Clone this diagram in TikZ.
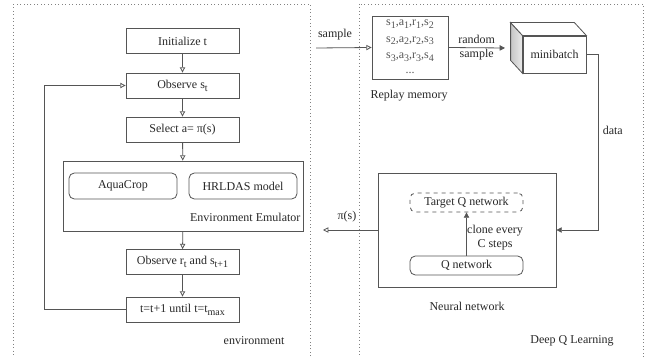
\documentclass[tikz,border=0pt]{standalone}
\usepackage{fontspec}
\setmainfont{Liberation Serif}
\usepackage{xcolor}
\definecolor{dqline}{RGB}{85,85,85}
\definecolor{dqtext}{RGB}{40,40,40}
\definecolor{dqframe}{RGB}{130,130,130}
\definecolor{dqshade}{RGB}{215,215,215}
\usetikzlibrary{arrows.meta,positioning,calc}
\newcommand{\sbs}[1]{\raisebox{-2.2pt}{\fontsize{7.5}{8}\selectfont #1}}
\tikzset{
  stepbox/.style={draw=dqline,line width=0.6pt,minimum width=84.75pt,minimum height=18.75pt,inner sep=0pt,text=dqtext},
  modelbox/.style={draw=dqline,line width=0.6pt,rounded corners=4pt,inner sep=0pt,text=dqtext},
  lbl/.style={text=dqtext,inner sep=1pt},
  openarrow/.style={draw=dqline,line width=0.6pt,-{Triangle[open,length=4pt,width=4pt]}},
  fullarrow/.style={draw=dqline,line width=0.6pt,-{Triangle[length=4pt,width=4pt]}},
  frame/.style={draw=dqframe,dotted,line width=0.6pt}
}
\begin{document}
\begin{tikzpicture}[x=0.75pt,y=-0.75pt,font=\fontsize{9}{11}\selectfont]
  \clip (0,0) rectangle (655,356);
  \fill[white] (0,0) rectangle (655,356);
  % dotted frames
  \draw[frame] (13,4) rectangle (310,380);
  \draw[frame] (359,4) rectangle (643,380);

  % environment side
  \node[stepbox] (init) at (182.5,41) {Initialize t};
  \node[stepbox] (obs) at (182.5,85.5) {Observe s\sbs{t}};
  \node[stepbox] (sel) at (182.5,129.5) {Select a= π(s)};
  \node[draw=dqline,line width=0.6pt,minimum width=180pt,minimum height=52.5pt,inner sep=0pt]
        (emu) at (183,196) {};
  \node[modelbox,minimum width=81pt,minimum height=19.5pt] (aqua) at (123,186) {AquaCrop};
  \node[modelbox,minimum width=81pt,minimum height=19.5pt] (hrl) at (243,186) {HRLDAS model};
  \node[lbl,anchor=east] (emulbl) at (302,217) {Environment Emulator};
  \node[stepbox] (obsr) at (182.5,262) {Observe r\sbs{t} and s\sbs{t+1}};
  \node[stepbox] (tinc) at (182.5,309.5) {t=t+1 until t=t\sbs{max}};
  \node[lbl] (envlbl) at (254,341) {environment};
  \coordinate (loopb) at (44,309.5);
  \coordinate (loopt) at (44,85.5);

  \draw[openarrow] (init) -- (obs);
  \draw[openarrow] (obs) -- (sel);
  \draw[openarrow] (sel) -- (emu);
  \draw[openarrow] (emu) -- (obsr);
  \draw[openarrow] (obsr) -- (tinc);
  \draw[openarrow] (tinc.west) -- (loopb) -- (loopt) -- (obs.west);

  % deep Q learning side
  \node[draw=dqline,line width=0.6pt,minimum width=57pt,minimum height=47.25pt,inner sep=0pt,
        align=center,text=dqline,font=\fontsize{9}{12.4}\selectfont]
        (mem) at (410,47.5) {s\sbs{1},a\sbs{1},r\sbs{1},s\sbs{2}\\
        s\sbs{2},a\sbs{2},r\sbs{2},s\sbs{3}\\
        s\sbs{3},a\sbs{3},r\sbs{3},s\sbs{4}\\ \raisebox{1pt}{...}};
  \node[lbl] (memlbl) at (409,96) {Replay memory};
  \coordinate (smpl) at (316,48);
  \node[lbl] (smpllbl) at (335,35) {sample};

  \node[draw=dqline,line width=0.6pt,fill=white,minimum width=47.25pt,minimum height=27.75pt,
        inner sep=0pt,text=dqtext] (mb) at (554.5,54.5) {minibatch};
  \shade[left color=dqshade!80!gray,right color=dqshade!50,draw=dqline,line width=0.6pt]
        (mb.north west) -- ++(-12,-13) -- ($(mb.south west)+(-12,-13)$) -- (mb.south west) -- cycle;
  \draw[dqline,line width=0.6pt,fill=white]
        (mb.north west) -- ++(-12,-13) -- ($(mb.north east)+(-12,-13)$) -- (mb.north east) -- cycle;
  \coordinate (rsend) at (505,48);

  \node[draw=dqline,line width=0.6pt,minimum width=133.5pt,minimum height=85.5pt,inner sep=0pt]
        (nn) at (467,230) {};
  \node[modelbox,dashed,minimum width=84.75pt,minimum height=14.25pt] (tq) at (466.5,202.5) {Target Q network};
  \node[modelbox,minimum width=84.75pt,minimum height=14.25pt] (qn) at (466.5,265.5) {Q network};
  \node[lbl,align=center] (clone) at (495,237.5) {clone every\\C steps};
  \node[lbl] (nnlbl) at (467,306) {Neural network};
  \node[lbl] (dqllbl) at (572,341) {Deep Q Learning};
  \coordinate (piend) at (323,230);
  \node[lbl] (pilbl) at (347,217) {π(s)};

  \draw[openarrow] (smpl) -- (mem.west);
  \draw[fullarrow] (mem.east) -- node[lbl,align=center]{random\\sample} (rsend);
  \draw[fullarrow] (mb.east) -- ++(12,0) |- node[lbl,anchor=west,pos=0.215,xshift=2pt]{data} (nn.east);
  \draw[fullarrow] (qn) -- (tq);
  \draw[openarrow] (nn.west) -- (piend);
\end{tikzpicture}
\end{document}
